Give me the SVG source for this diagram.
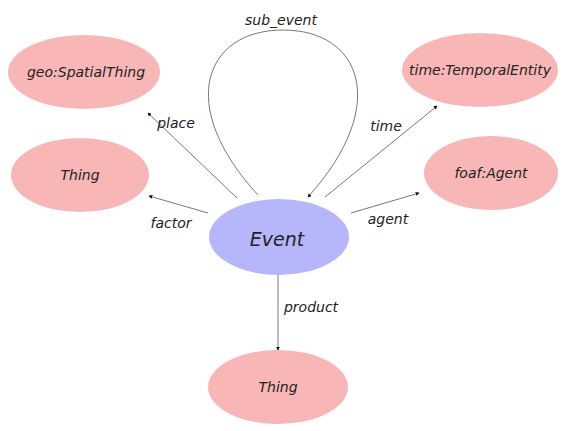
<svg xmlns="http://www.w3.org/2000/svg" width="565" height="431" viewBox="0 0 565 431">
<defs>
<marker id="ah" viewBox="0 0 6 6" refX="5" refY="3" markerWidth="4" markerHeight="4" orient="auto" markerUnits="userSpaceOnUse">
<path d="M0,0 L6,3 L0,6 z" fill="#111"/>
</marker>
</defs>
<style>
.n{fill:#f9b6b6}
.ev{fill:#b6b6fa}
.t{font-family:"DejaVu Sans",sans-serif;font-style:italic;font-size:14px;fill:#222;text-anchor:middle;dominant-baseline:central}
.lb{font-family:"DejaVu Sans",sans-serif;font-style:italic;font-size:14px;fill:#222;text-anchor:middle;dominant-baseline:central}
.e{stroke:#555;stroke-width:0.8;fill:none;marker-end:url(#ah)}
</style>
<rect width="565" height="431" fill="#fff"/>
<g id="connectors">
<path class="e" d="M237,198 L148,113"/>
<path class="e" d="M325,197 L437,106"/>
<path class="e" d="M208,213 L149,196"/>
<path class="e" d="M351,213 L419,193"/>
<path class="e" d="M278,275 L278,350"/>
<path class="e" d="M258,195 C175,105 205,30 283,30 C361,30 391,105 308,197"/>
<text class="lb" x="281" y="20">sub_event</text>
<text class="lb" x="176" y="123">place</text>
<text class="lb" x="386" y="126">time</text>
<text class="lb" x="171" y="223">factor</text>
<text class="lb" x="388" y="219">agent</text>
<text class="lb" x="311" y="307">product</text>
</g>
<g id="geo"><ellipse class="n" cx="84" cy="72" rx="76" ry="37"/><text class="t" x="86" y="72">geo:SpatialThing</text></g>
<g id="thing1"><ellipse class="n" cx="80" cy="175" rx="69" ry="37"/><text class="t" x="80" y="175">Thing</text></g>
<g id="time"><ellipse class="n" cx="480" cy="70" rx="78" ry="37"/><text class="t" x="480" y="70">time:TemporalEntity</text></g>
<g id="agent"><ellipse class="n" cx="491" cy="173" rx="67" ry="37"/><text class="t" x="491" y="173">foaf:Agent</text></g>
<g id="event"><ellipse class="ev" cx="279" cy="237" rx="70" ry="38"/><text class="t" x="277" y="239" style="font-size:19px">Event</text></g>
<g id="thing2"><ellipse class="n" cx="278" cy="387" rx="70" ry="37"/><text class="t" x="278" y="387">Thing</text></g>
</svg>
